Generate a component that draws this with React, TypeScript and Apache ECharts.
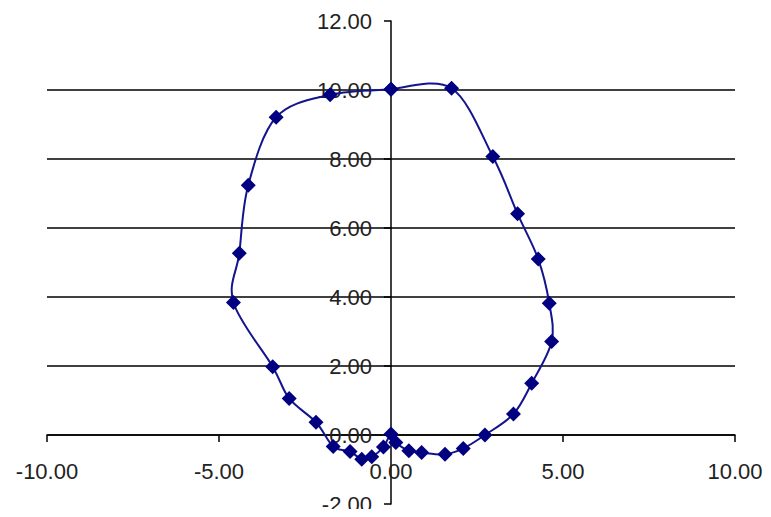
import React, { useEffect, useRef } from "react";
import * as echarts from "echarts";

const xValues = [0, 1.76, 2.96, 3.68, 4.28, 4.6, 4.67, 4.09, 3.56, 2.73, 2.1, 1.57, 0.89, 0.52, 0.14, 0, -0.22, -0.56, -0.85, -1.19, -1.68, -2.18, -2.96, -3.44, -4.58, -4.41, -4.15, -3.34, -1.77, 0];
const yValues = [10.02, 10.05, 8.07, 6.41, 5.1, 3.82, 2.71, 1.5, 0.61, 0.0, -0.39, -0.56, -0.51, -0.46, -0.22, 0.03, -0.35, -0.63, -0.7, -0.48, -0.33, 0.37, 1.06, 1.98, 3.84, 5.27, 7.24, 9.21, 9.86, 10.02];
const xTicks = { min: -10, max: 10, interval: 5 };
const yTicks = { min: -2, max: 12, interval: 2 };

const W = 771;
const H = 517;
const G = { left: 47, right: 36, top: 21, bottom: 13 };

export default function App() {
  const ref = useRef<HTMLDivElement>(null);
  useEffect(() => {
    if (!ref.current) return;
    const chart = echarts.init(ref.current, null, { renderer: "svg" });
    const data = xValues.map((x, i) => [x, yValues[i]]);
    const n = data.length;
    const gw = W - G.left - G.right;
    const gh = H - G.top - G.bottom;
    // pixel offsets so the axes cross at the origin
    const yAxisOffset = -((0 - xTicks.min) / (xTicks.max - xTicks.min)) * gw;
    const xAxisOffset = -((0 - yTicks.min) / (yTicks.max - yTicks.min)) * gh;
    const labelStyle = {
      color: "#222",
      fontFamily: "'Liberation Sans', Arial, sans-serif",
      fontSize: 22,
      formatter: (v: number) => v.toFixed(2),
    };
    const axisCommon = {
      type: "value",
      axisLine: { show: true, onZero: false, lineStyle: { color: "#000", width: 1.5 } },
      axisTick: { show: true, length: 7, lineStyle: { color: "#000", width: 1.5 } },
    };
    chart.setOption({
      animation: false,
      backgroundColor: "#fff",
      grid: { ...G, containLabel: false, outerBoundsMode: "none" },
      xAxis: {
        ...axisCommon,
        position: "bottom",
        offset: xAxisOffset,
        min: xTicks.min,
        max: xTicks.max,
        interval: xTicks.interval,
        axisLabel: { ...labelStyle, margin: 25 },
        splitLine: { show: false },
      },
      yAxis: {
        ...axisCommon,
        position: "left",
        offset: yAxisOffset,
        min: yTicks.min,
        max: yTicks.max,
        interval: yTicks.interval,
        axisLabel: { ...labelStyle, margin: 19, padding: [0, 0, 4, 0] },
        splitLine: {
          show: true,
          lineStyle: {
            color: ["transparent", "#000", "#000", "#000", "#000", "#000", "#000", "transparent"],
            width: 1.5,
          },
        },
      },
      series: [
        {
          type: "custom",
          data,
          encode: { x: 0, y: 1 },
          z: 2,
          renderItem: (params: any, api: any) => {
            const i = params.dataIndex;
            if (i >= n - 1) return null;
            const p = (k: number) => api.coord(data[Math.max(0, Math.min(n - 1, k))]);
            const p0 = p(i - 1);
            const p1 = p(i);
            const p2 = p(i + 1);
            const p3 = p(i + 2);
            const t = 1 / 6;
            return {
              type: "bezierCurve",
              shape: {
                x1: p1[0],
                y1: p1[1],
                cpx1: p1[0] + (p2[0] - p0[0]) * t,
                cpy1: p1[1] + (p2[1] - p0[1]) * t,
                cpx2: p2[0] - (p3[0] - p1[0]) * t,
                cpy2: p2[1] - (p3[1] - p1[1]) * t,
                x2: p2[0],
                y2: p2[1],
              },
              style: { stroke: "#14148f", lineWidth: 2, fill: "none" },
            };
          },
        },
        {
          type: "scatter",
          data,
          z: 3,
          symbol: "diamond",
          symbolSize: 15,
          itemStyle: { color: "#000080", opacity: 1 },
        },
      ],
    });
    return () => chart.dispose();
  }, []);
  return <div ref={ref} style={{ width: W, height: H, margin: -8 }} />;
}
